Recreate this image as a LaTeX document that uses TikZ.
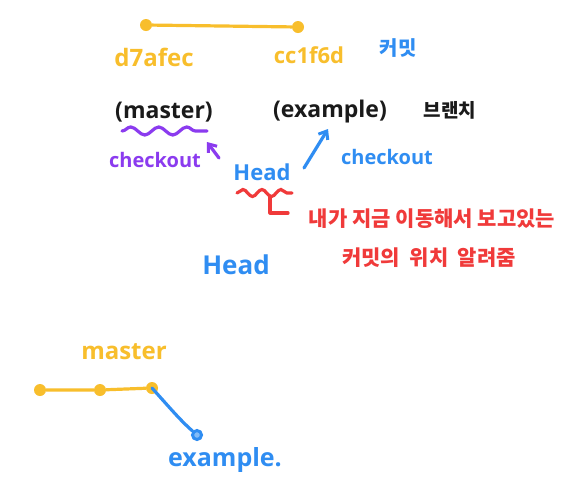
\documentclass[tikz,border=0pt]{standalone}
\usepackage{fontspec}
\setmainfont{Open Sans}
\newfontfamily\kr{Noto Sans CJK KR}
\usetikzlibrary{decorations.pathmorphing,arrows.meta}
\definecolor{cyel}{HTML}{F8BE2C}
\definecolor{cblue}{HTML}{2F8DF2}
\definecolor{cpur}{HTML}{8B3BEF}
\definecolor{cred}{HTML}{F03A3A}
\definecolor{cblk}{HTML}{1A1A1A}
\newcommand{\fs}[1]{\fontsize{#1}{#1}\selectfont}
\begin{document}
\begin{tikzpicture}[x=1pt,y=-1pt,
  dot/.style={circle,fill=#1,inner sep=0pt,minimum size=12pt},
  lbl/.style={inner sep=0pt,anchor=center},
  wavy/.style={decorate,decoration={snake,amplitude=4pt,segment length=28pt},line width=3.2pt,line cap=round},
  pen/.style={line width=3.2pt,line cap=round,line join=round},
  tip/.style={-{Straight Barb[length=7pt,width=11pt,line width=3pt]}}
]
\path[fill=white] (0,0) rectangle (581,491);
\useasboundingbox (0,0) rectangle (581,491);
% top commits
\node[dot=cyel] (c1) at (146,25) {};
\node[dot=cyel] (c2) at (298,27) {};
\draw[pen,cyel] (c1) -- (c2);
\node[lbl,text=cyel,font=\bfseries\fs{24}] (h1) at (154,57) {d7afec};
\node[lbl,text=cyel,font=\bfseries\fs{22}] (h2) at (309,55) {cc1f6d};
\node[lbl,text=cblue,font=\kr\bfseries\fs{20}] (kc) at (398,48) {커밋};
% branches
\node[lbl,text=cblk,font=\bfseries\fs{23}] (bm) at (164,112) {(master)};
\node[lbl,text=cblk,font=\bfseries\fs{23}] (be) at (330,112) {(example)};
\node[lbl,text=cblk,font=\kr\bfseries\fs{19}] (kb) at (450,110) {브랜치};
% purple checkout
\coordinate (w1) at (122,131);
\coordinate (w2) at (207,131);
\draw[wavy,cpur] (w1) -- (w2);
\node[lbl,text=cpur,font=\bfseries\fs{20}] (pc) at (155,160) {checkout};
\coordinate (pa1) at (219,158);
\coordinate (pa2) at (207,142);
\draw[pen,cpur,tip] (pa1) -- (pa2);
% Head and blue checkout
\node[lbl,text=cblue,font=\bfseries\fs{22}] (hd) at (262,172) {Head};
\coordinate (ba1) at (304,168);
\coordinate (ba2) at (328,129);
\draw[pen,cblue,tip] (ba1) -- (ba2);
\node[lbl,text=cblue,font=\bfseries\fs{20}] (bc) at (387,157) {checkout};
% red annotation
\coordinate (r1) at (237,193);
\coordinate (r2) at (292,193);
\draw[wavy,cred,decoration={snake,amplitude=3.5pt,segment length=19pt}] (r1) -- (r2);
\coordinate (k1) at (270,197);
\coordinate (k2) at (270,213);
\coordinate (k3) at (288,213);
\draw[pen,cred] (k1) -- (k2) -- (k3);
\node[lbl,text=cred,font=\kr\bfseries\fs{21}] (rt1) at (432,219) {내가 지금 이동해서 보고있는};
\node[lbl,text=cred,font=\kr\bfseries\fs{21}] (rt2) at (429,258) {커밋의\ \ 위치\ \ 알려줌};
\node[lbl,text=cblue,font=\bfseries\fs{26}] (hd2) at (236,265) {Head};
% bottom graph
\node[lbl,text=cyel,font=\bfseries\fs{24}] (ml) at (124,352) {master};
\node[dot=cyel] (m1) at (40,390) {};
\node[dot=cyel] (m2) at (100,390) {};
\node[dot=cyel] (m3) at (152,388) {};
\draw[pen,cyel] (m1) -- (m2) -- (m3);
\node[circle,draw=cblue,line width=3pt,fill=cblue!60!white,inner sep=0pt,minimum size=9pt] (e1) at (197,435) {};
\draw[pen,cblue] (m3.center) .. controls (170,408) and (180,420) .. (e1);
\node[lbl,text=cblue,font=\bfseries\fs{25}] (el) at (225,460) {example.};
\end{tikzpicture}
\end{document}
